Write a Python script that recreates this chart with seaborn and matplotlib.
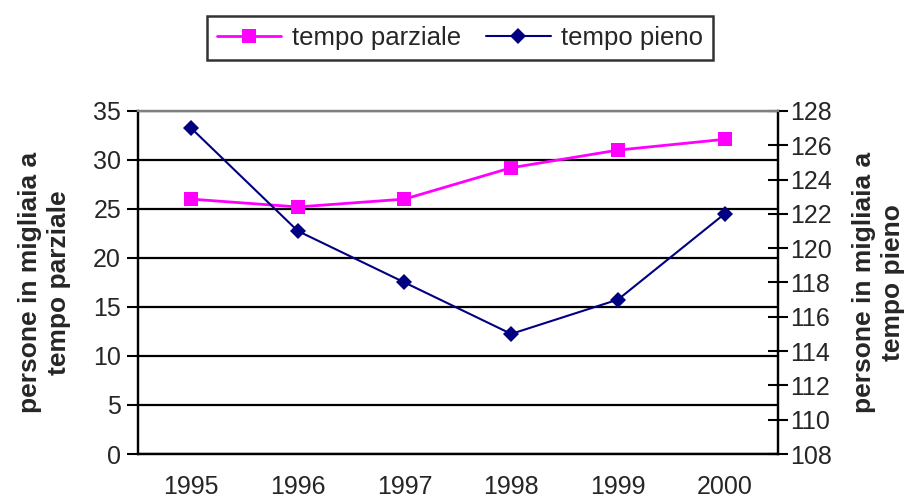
import matplotlib
matplotlib.use("Agg")
import matplotlib.pyplot as plt
import seaborn as sns
import pandas as pd

anni = ["1995", "1996", "1997", "1998", "1999", "2000"]
tempo_parziale = [26.0, 25.2, 26.0, 29.2, 31.0, 32.1]
tempo_pieno = [127, 121, 118, 115, 117, 122]

sns.set_style("white")
plt.rcParams['font.family'] = ['Liberation Sans', 'DejaVu Sans']

df = pd.DataFrame({"pos": range(len(anni)), "anno": anni,
                   "parziale": tempo_parziale, "pieno": tempo_pieno})

fig = plt.figure(figsize=(9.18, 5.04), dpi=100)
ax = fig.add_axes([0.150, 0.0992, 0.6975, 0.6808])
ax2 = ax.twinx()

sns.lineplot(data=df, x="pos", y="parziale", ax=ax, color="#FF00FF",
             marker="s", markersize=10, markeredgewidth=0, linewidth=2,
             label="tempo parziale", legend=False)
sns.lineplot(data=df, x="pos", y="pieno", ax=ax2, color="#000080",
             marker="D", markersize=8, markeredgewidth=0, linewidth=1.5,
             label="tempo pieno", legend=False)

# asse sinistro
ax.set_ylim(0, 35)
ax.set_yticks(range(0, 36, 5))
ax.set_xlim(-0.5, len(anni) - 0.5)
ax.set_xticks(range(len(anni)))
ax.set_xticklabels(anni)
ax.set_xticks([i + 0.5 for i in range(-1, len(anni))], minor=True)
ax.tick_params(axis="x", which="major", length=0, pad=15, labelsize=18)
ax.tick_params(axis="x", which="minor", length=9, width=1.5, direction="out", color="black")
ax.tick_params(axis="y", length=8, width=1.5, direction="out", color="black", labelsize=18, pad=4)
ax.yaxis.grid(True, color="black", linewidth=1.6)
ax.set_axisbelow(True)
ax.set_xlabel("")
ax.set_ylabel("persone in migliaia a\ntempo parziale", fontsize=19, fontweight="bold",
              labelpad=16, linespacing=1.25)

# asse destro
ax2.set_ylim(108, 128)
ax2.set_yticks(range(108, 129, 2))
ax2.tick_params(axis="y", length=14, width=1.5, direction="inout", color="black",
                labelsize=18, pad=2)
ax2.set_ylabel("persone in migliaia a\ntempo pieno", fontsize=19, fontweight="bold",
               rotation=90, labelpad=14, linespacing=1.25)
ax2.set_xlim(-0.5, len(anni) - 0.5)

for a in (ax, ax2):
    for s in ("left", "bottom", "right"):
        a.spines[s].set_color("black")
        a.spines[s].set_linewidth(1.6)
    a.spines["top"].set_color("#808080")
    a.spines["top"].set_linewidth(1.6)

h1, l1 = ax.get_legend_handles_labels()
h2, l2 = ax2.get_legend_handles_labels()
leg = fig.legend(h1 + h2, l1 + l2, loc="center", bbox_to_anchor=(0.501, 0.925),
                 ncol=2, fontsize=18.5, frameon=True, fancybox=False,
                 handlelength=2.5, columnspacing=1.0, handletextpad=0.4,
                 borderpad=0.4)
leg.get_frame().set_edgecolor("black")
leg.get_frame().set_linewidth(1.8)

plt.savefig("out.png", dpi=100)
